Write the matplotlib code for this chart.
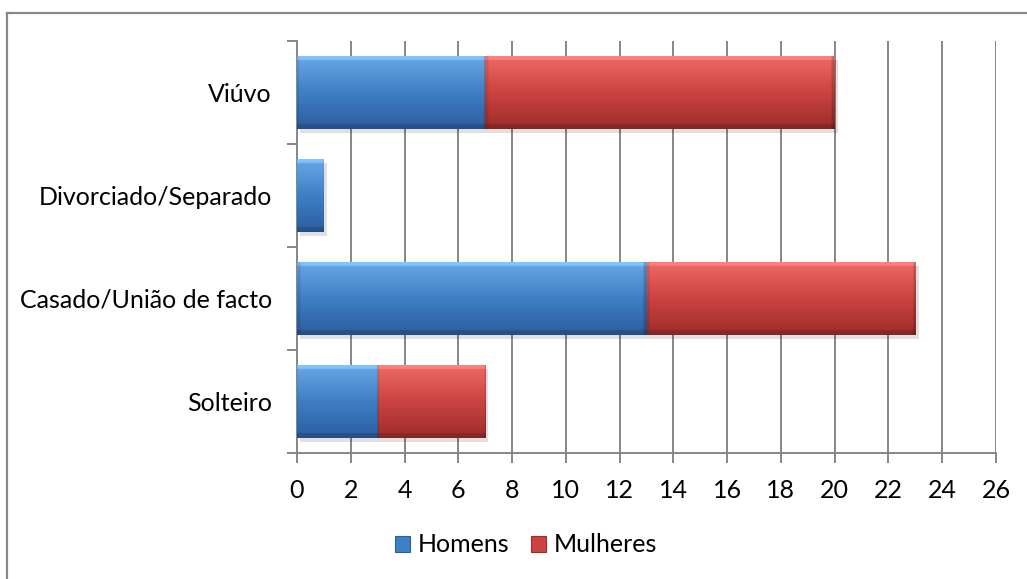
import numpy as np
import matplotlib
matplotlib.use("Agg")
import matplotlib.pyplot as plt
from matplotlib.patches import Patch, Rectangle
from matplotlib.lines import Line2D
from matplotlib.colors import to_rgb

# Marital status, counts by sex
categories = ["Solteiro", "Casado/União de facto", "Divorciado/Separado", "Viúvo"]
homens = [3, 13, 1, 7]
mulheres = [4, 10, 0, 13]
series_names = ["Homens", "Mulheres"]
x_ticks = list(range(0, 27, 2))

plt.rcParams["font.family"] = ["Lato", "DejaVu Sans"]

W, H = 1027, 579
fig = plt.figure(figsize=(W / 100, H / 100), dpi=100)
ax = fig.add_axes([297 / W, 1 - 453 / H, (996 - 297) / W, (453 - 41) / H])

# Chart frame (left and top edges fall inside the canvas)
frame_c = "#878787"
fig.add_artist(Line2D([6.5 / W, 6.5 / W], [0, 1 - 12.5 / H], transform=fig.transFigure,
                      color=frame_c, linewidth=1.6))
fig.add_artist(Line2D([6.5 / W, 1], [1 - 12.5 / H, 1 - 12.5 / H], transform=fig.transFigure,
                      color=frame_c, linewidth=1.6))

blue = ("#6aa8e6", "#3f7fc6", "#2c5e9e")
red = ("#ee6b68", "#cd4341", "#9c2d2b")


def bevel_image(cols, n=60, m=200):
    top, mid, bot = [np.array(to_rgb(c)) for c in cols]
    t = np.linspace(0, 1, n)[:, None]
    img = np.where(t < 0.5, top + (mid - top) * (t / 0.5), mid + (bot - mid) * ((t - 0.5) / 0.5))
    img = img[:, None, :].repeat(m, axis=1)
    # highlight strip along the top edge
    img[:4] = np.clip(img[:4] * 1.12 + 0.04, 0, 1)
    img[-4:] = img[-4:] * 0.85
    img[:, :2] = img[:, :2] * 0.9
    img[:, -2:] = img[:, -2:] * 0.82
    return img


y = np.arange(len(categories))
bar_h = 0.71
b1 = ax.barh(y, homens, height=bar_h, color=blue[1], edgecolor="none", zorder=3)
b2 = ax.barh(y, mulheres, left=homens, height=bar_h, color=red[1], edgecolor="none", zorder=3)

for bars, cols in ((b1, blue), (b2, red)):
    img = bevel_image(cols)
    for p in bars:
        w = p.get_width()
        if w <= 0:
            continue
        x0, y0, hh = p.get_x(), p.get_y(), p.get_height()
        # soft drop shadow
        ax.add_patch(Rectangle((x0 + 0.12, y0 - 0.04), w, hh, facecolor="#000000",
                               alpha=0.12, edgecolor="none", zorder=2))
        im = ax.imshow(img, extent=(x0, x0 + w, y0, y0 + hh), aspect="auto",
                       interpolation="bilinear", zorder=4, origin="upper")
        im.set_clip_path(p)

ax.set_xlim(0, 26)
ax.set_ylim(-0.5, len(categories) - 0.5)
ax.set_xticks(x_ticks)
ax.set_yticks(y)
ax.set_yticklabels(categories)
ax.set_yticks(np.arange(-0.5, len(categories), 1), minor=True)

grid_c = "#868686"
ax.grid(axis="x", color=grid_c, linewidth=1.4, zorder=1)
ax.set_axisbelow(True)
for s in ("top", "right"):
    ax.spines[s].set_visible(False)
for s in ("left", "bottom"):
    ax.spines[s].set_color(grid_c)
    ax.spines[s].set_linewidth(1.4)

fs = 18
ax.tick_params(axis="x", direction="out", length=7, width=1.4, color=grid_c,
               labelsize=fs, pad=12, labelcolor="black")
ax.tick_params(axis="y", which="major", length=0, labelsize=fs, pad=18, labelcolor="black")
ax.tick_params(axis="y", which="minor", direction="out", length=7, width=1.4, color=grid_c)

handles = [Patch(facecolor=blue[1], edgecolor=blue[2], linewidth=0.8),
           Patch(facecolor=red[1], edgecolor=red[2], linewidth=0.8)]
fig.legend(handles, series_names, loc="center", bbox_to_anchor=(526 / W, 1 - 545 / H),
           ncol=2, frameon=False, fontsize=fs, handlelength=0.6, handleheight=0.6,
           handletextpad=0.3, columnspacing=0.9)

fig.savefig("out.png", dpi=100)
